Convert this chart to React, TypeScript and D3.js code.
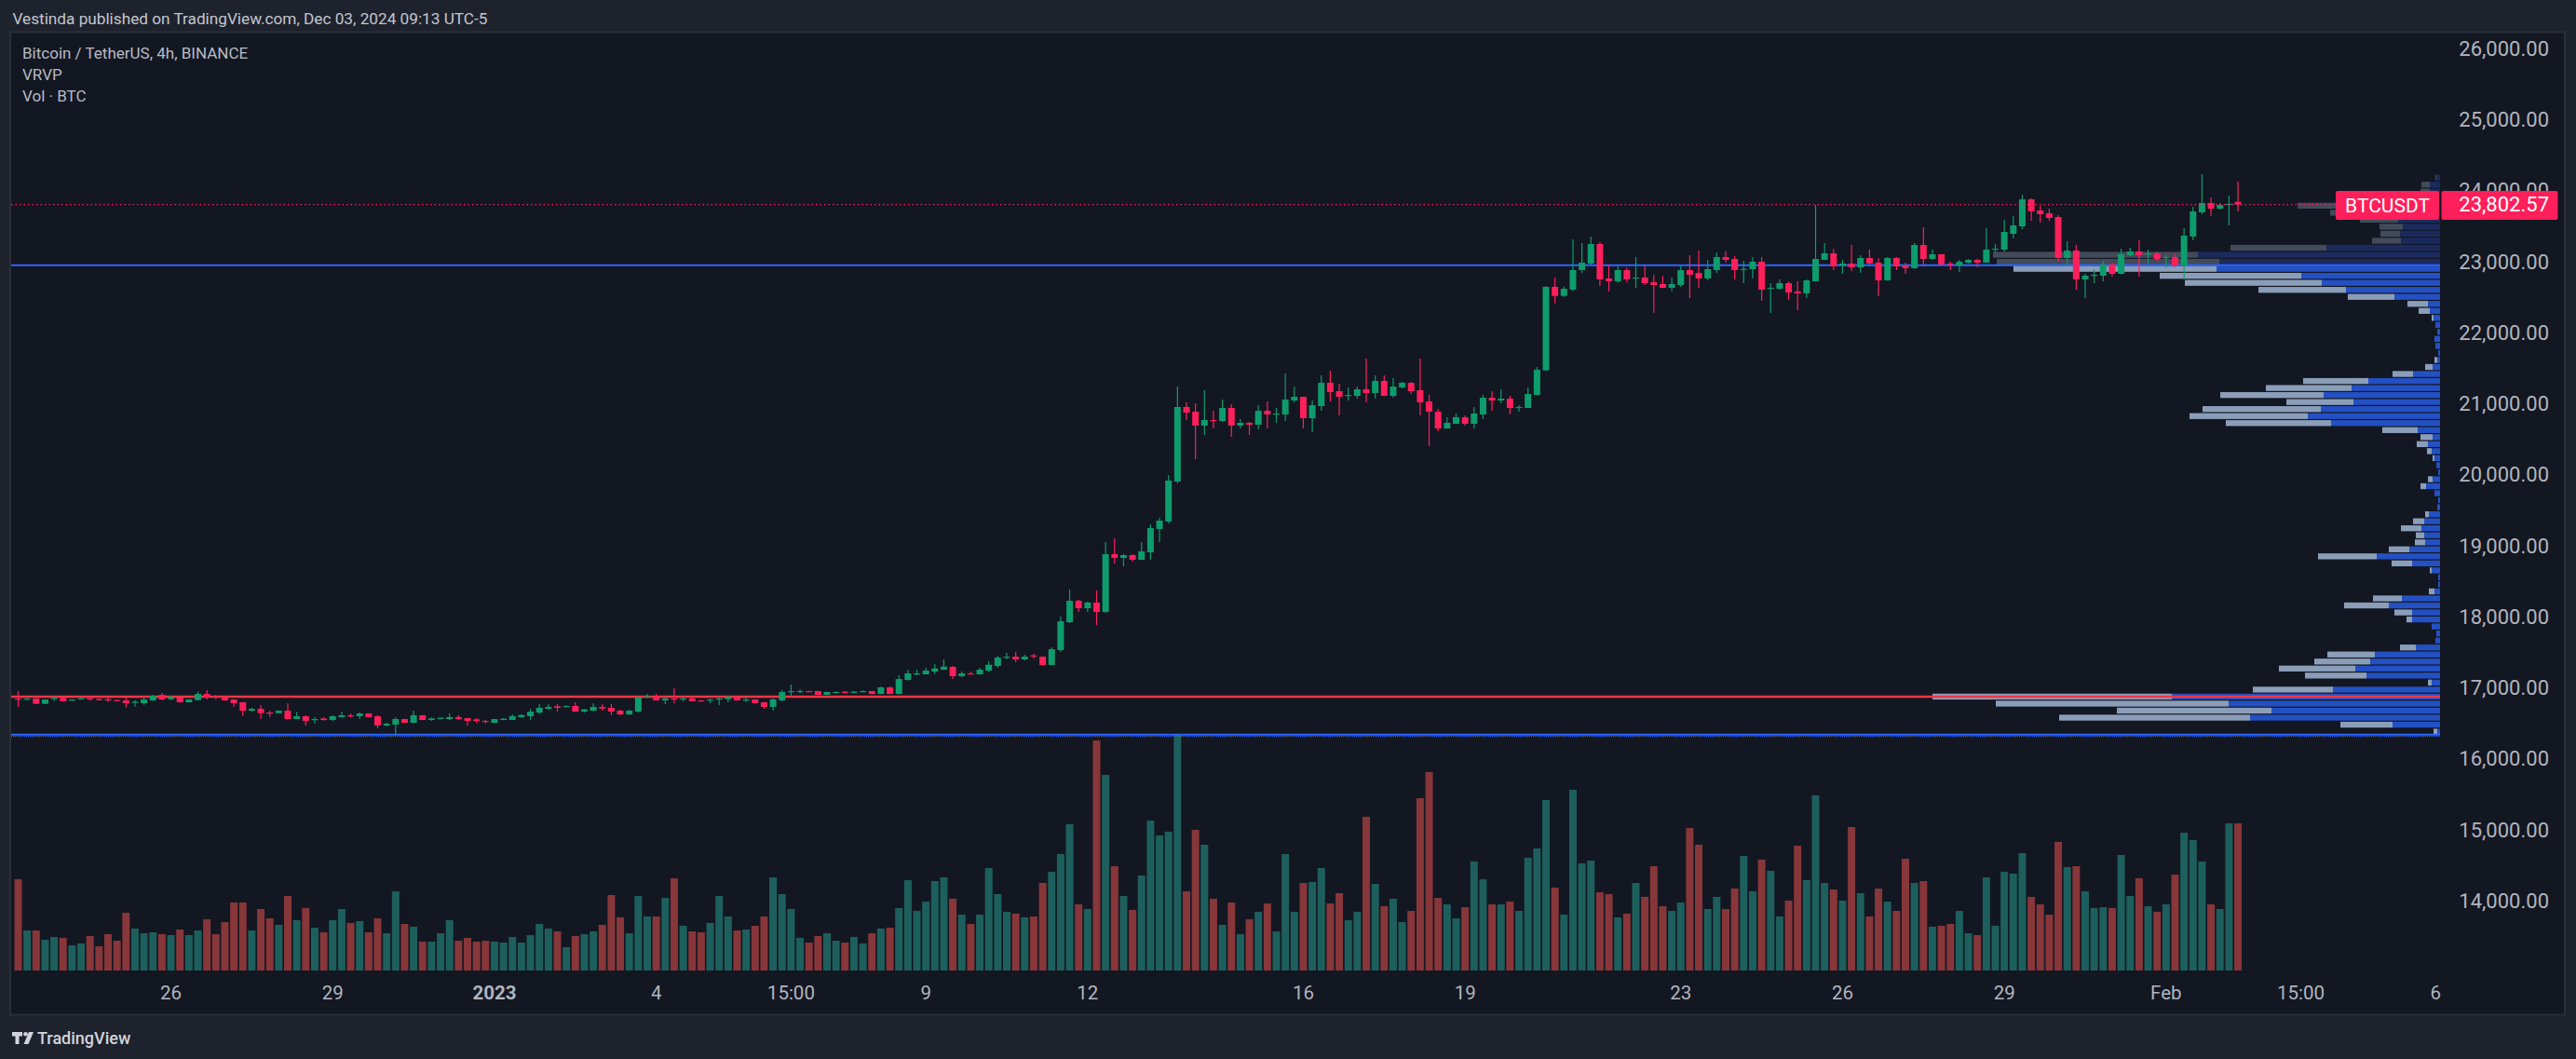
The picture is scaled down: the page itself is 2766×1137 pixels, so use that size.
import React, {useEffect, useRef} from "react";
import * as d3 from "d3";

// BTCUSDT 4h bars, first bar opens Dec 23 2022 07:00 (UTC-5)
const startTime = Date.UTC(2022, 11, 23, 12);
const barMs = 4 * 3600 * 1000;

const open = [
	16846, 16841, 16846, 16772, 16837, 16855, 16824, 16833, 16850, 16841,
	16837, 16824, 16820, 16789, 16780, 16820, 16898, 16837, 16859, 16793,
	16824, 16911, 16876, 16868, 16833, 16793, 16675, 16702, 16649, 16640,
	16675, 16557, 16597, 16549, 16566, 16544, 16584, 16610, 16597, 16636,
	16597, 16466, 16479, 16557, 16505, 16610, 16544, 16557, 16557, 16584,
	16570, 16553, 16531, 16505, 16544, 16544, 16584, 16597, 16649, 16702,
	16736, 16728, 16741, 16662, 16675, 16728, 16715, 16675, 16623, 16662,
	16863, 16872, 16820, 16846, 16837, 16846, 16820, 16824, 16833, 16837,
	16868, 16824, 16833, 16793, 16728, 16820, 16942, 16938, 16951, 16951,
	16898, 16925, 16942, 16925, 16938, 16951, 16911, 17003, 16911, 17108,
	17187, 17187, 17226, 17252, 17292, 17161, 17200, 17187, 17239, 17305,
	17423, 17436, 17397, 17454, 17436, 17318, 17528, 17921, 18223, 18118,
	18197, 18066, 18879, 18826, 18866, 18800, 18905, 19233, 19338, 19902,
	20951, 20885, 20689, 20767, 20754, 20938, 20689, 20728, 20702, 20898,
	20850, 20846, 21043, 21095, 20793, 20964, 21292, 21174, 21113, 21108,
	21200, 21148, 21318, 21108, 21226, 21292, 21187, 21030, 20885, 20649,
	20715, 20807, 20715, 20846, 21082, 21043, 21069, 20942, 20938, 21121,
	21467, 22643, 22516, 22603, 22879, 22971, 23246, 22761, 22721, 22879,
	22765, 22774, 22708, 22682, 22630, 22669, 22879, 22839, 22761, 22879,
	23062, 23036, 22885, 22892, 22997, 22620, 22616, 22695, 22577, 22551,
	22721, 23023, 23115, 22944, 22971, 22918, 23049, 22984, 22734, 23049,
	22940, 22905, 23233, 23036, 23102, 22971, 22944, 22984, 23023, 22984,
	23167, 23167, 23390, 23495, 23875, 23718, 23679, 23626, 23049, 23154,
	22747, 22805, 22800, 22957, 22826, 23089, 23141, 23110, 23115, 23058,
	23062, 22944, 23351, 23692, 23823, 23744, 23800, 23840,
];

const high = [
	16951, 16859, 16850, 16837, 16868, 16859, 16837, 16855, 16868, 16846,
	16859, 16828, 16859, 16824, 16855, 16898, 16925, 16885, 16868, 16837,
	16942, 16964, 16898, 16872, 16833, 16798, 16715, 16754, 16675, 16680,
	16780, 16658, 16610, 16588, 16584, 16610, 16662, 16636, 16649, 16640,
	16610, 16505, 16584, 16562, 16675, 16614, 16579, 16580, 16636, 16610,
	16575, 16570, 16544, 16562, 16570, 16623, 16627, 16702, 16767, 16767,
	16767, 16750, 16793, 16702, 16780, 16767, 16767, 16689, 16689, 16872,
	16911, 16911, 16859, 16990, 16859, 16859, 16824, 16846, 16872, 16885,
	16885, 16863, 16837, 16798, 16846, 16964, 17043, 16977, 16955, 16955,
	16942, 16946, 16946, 16951, 16960, 16955, 17016, 17016, 17174, 17252,
	17248, 17279, 17331, 17397, 17305, 17226, 17226, 17279, 17371, 17449,
	17489, 17502, 17462, 17476, 17440, 17567, 18000, 18380, 18236, 18210,
	18367, 19049, 19102, 18879, 18879, 19049, 19298, 19390, 19994, 21239,
	21017, 21003, 21187, 20898, 21056, 20990, 20780, 20741, 20977, 21030,
	20938, 21423, 21239, 21095, 21043, 21397, 21462, 21279, 21226, 21239,
	21633, 21397, 21397, 21358, 21305, 21305, 21633, 21121, 20925, 20807,
	20859, 20833, 20951, 21121, 21174, 21200, 21108, 20977, 21226, 21515,
	22650, 22774, 22647, 23311, 23259, 23351, 23272, 22953, 22931, 22914,
	23062, 22940, 22809, 22800, 22774, 22931, 23089, 23154, 23023, 23128,
	23145, 23075, 23010, 23062, 23062, 22695, 22747, 22721, 22721, 22747,
	23797, 23259, 23176, 23023, 23233, 23089, 23167, 23049, 23062, 23062,
	22984, 23259, 23482, 23167, 23105, 22997, 23023, 23036, 23036, 23469,
	23246, 23587, 23639, 23941, 23889, 23784, 23744, 23653, 23285, 23233,
	22826, 22892, 23010, 22984, 23180, 23193, 23298, 23167, 23141, 23089,
	23115, 23469, 23770, 24230, 23902, 23823, 23928, 24125,
];

const low = [
	16728, 16824, 16768, 16768, 16811, 16800, 16815, 16828, 16815, 16820,
	16798, 16807, 16719, 16732, 16758, 16811, 16824, 16824, 16789, 16789,
	16820, 16837, 16837, 16815, 16732, 16597, 16658, 16557, 16588, 16636,
	16553, 16553, 16466, 16492, 16536, 16527, 16580, 16584, 16557, 16580,
	16426, 16452, 16343, 16500, 16500, 16540, 16531, 16553, 16544, 16549,
	16466, 16505, 16496, 16500, 16540, 16540, 16575, 16544, 16627, 16689,
	16662, 16724, 16658, 16649, 16670, 16675, 16610, 16610, 16618, 16649,
	16846, 16815, 16767, 16780, 16807, 16805, 16800, 16780, 16754, 16793,
	16815, 16798, 16776, 16702, 16675, 16807, 16885, 16925, 16933, 16894,
	16894, 16920, 16920, 16920, 16933, 16905, 16905, 16905, 16905, 17099,
	17174, 17187, 17191, 17250, 17121, 17147, 17187, 17185, 17217, 17283,
	17397, 17358, 17384, 17410, 17310, 17315, 17502, 17908, 18066, 18066,
	17882, 18052, 18748, 18708, 18774, 18795, 18800, 19049, 19312, 19875,
	20767, 20216, 20557, 20649, 20741, 20531, 20649, 20557, 20636, 20649,
	20728, 20754, 21017, 20649, 20597, 20898, 21030, 20833, 21043, 21069,
	21017, 21069, 21105, 21082, 21213, 21134, 20833, 20400, 20610, 20645,
	20710, 20689, 20649, 20780, 20898, 21003, 20846, 20885, 20935, 21118,
	21460, 22411, 22503, 22581, 22835, 22957, 22656, 22577, 22700, 22704,
	22630, 22669, 22280, 22625, 22581, 22643, 22485, 22630, 22734, 22839,
	22984, 22747, 22695, 22761, 22446, 22276, 22603, 22459, 22315, 22485,
	22715, 23020, 22879, 22826, 22866, 22839, 22957, 22511, 22730, 22879,
	22826, 22900, 22931, 23023, 22955, 22879, 22853, 22971, 22918, 22980,
	23128, 23141, 23325, 23456, 23574, 23547, 23574, 22997, 22944, 22603,
	22485, 22695, 22721, 22787, 22820, 23075, 22787, 22971, 23010, 22905,
	22918, 22747, 23298, 23666, 23639, 23731, 23508, 23705,
];

const close = [
	16837, 16843, 16772, 16833, 16855, 16807, 16833, 16850, 16833, 16824,
	16820, 16811, 16780, 16802, 16833, 16885, 16833, 16868, 16793, 16833,
	16911, 16859, 16859, 16820, 16780, 16675, 16702, 16640, 16640, 16675,
	16557, 16597, 16531, 16557, 16544, 16597, 16610, 16597, 16636, 16584,
	16466, 16492, 16557, 16505, 16610, 16544, 16566, 16575, 16584, 16557,
	16531, 16531, 16518, 16557, 16562, 16597, 16614, 16662, 16715, 16728,
	16715, 16741, 16662, 16693, 16728, 16706, 16662, 16623, 16675, 16859,
	16876, 16820, 16846, 16833, 16846, 16807, 16807, 16833, 16846, 16868,
	16820, 16833, 16780, 16728, 16833, 16938, 16951, 16951, 16938, 16898,
	16938, 16938, 16925, 16942, 16951, 16911, 17003, 16911, 17121, 17200,
	17200, 17239, 17270, 17296, 17161, 17200, 17191, 17252, 17322, 17423,
	17436, 17397, 17436, 17441, 17318, 17541, 17935, 18223, 18118, 18197,
	18066, 18879, 18826, 18866, 18800, 18918, 19246, 19351, 19915, 20951,
	20872, 20689, 20767, 20759, 20938, 20689, 20728, 20702, 20898, 20846,
	20859, 21056, 21095, 20793, 20977, 21292, 21161, 21095, 21121, 21200,
	21148, 21318, 21108, 21239, 21292, 21174, 21017, 20885, 20649, 20728,
	20807, 20715, 20859, 21082, 21043, 21069, 20938, 20951, 21134, 21475,
	22643, 22516, 22616, 22879, 22984, 23246, 22747, 22721, 22879, 22747,
	22774, 22695, 22669, 22630, 22682, 22879, 22813, 22761, 22892, 23062,
	23023, 22879, 22896, 22997, 22603, 22630, 22695, 22564, 22551, 22734,
	23036, 23115, 22931, 22971, 22918, 23049, 22971, 22734, 23049, 22931,
	22905, 23233, 23036, 23102, 22957, 22957, 22997, 23023, 22984, 23167,
	23180, 23416, 23508, 23875, 23705, 23666, 23613, 23049, 23154, 22747,
	22800, 22813, 22957, 22826, 23102, 23141, 23089, 23115, 23036, 23062,
	22944, 23364, 23705, 23823, 23744, 23797, 23812, 23802.57,
];

// volume per bar, thousand BTC
const volume = [
	73.5, 32.3, 32.3, 24.8, 27.0, 26.3, 20.3, 21.8, 27.8, 19.5,
	29.3, 24.0, 46.5, 33.8, 30.0, 30.8, 29.3, 28.5, 33.0, 28.5,
	32.3, 41.3, 29.3, 39.0, 54.8, 54.8, 32.3, 49.5, 42.0, 36.8,
	60.0, 40.5, 50.3, 34.5, 30.8, 40.5, 49.5, 38.3, 39.8, 30.8,
	42.0, 30.0, 63.8, 37.5, 35.3, 23.3, 23.3, 30.0, 40.5, 24.0,
	26.3, 23.3, 24.0, 23.3, 22.5, 27.0, 22.5, 28.5, 37.5, 33.8,
	31.5, 18.8, 27.8, 29.3, 31.5, 36.8, 60.8, 42.8, 30.0, 60.0,
	43.5, 43.5, 58.5, 74.3, 36.0, 31.5, 30.8, 38.3, 60.0, 43.5,
	32.3, 33.0, 36.0, 43.5, 75.0, 61.5, 49.5, 26.3, 22.5, 27.8,
	30.0, 24.0, 22.5, 27.0, 21.8, 30.0, 33.8, 34.5, 50.3, 72.8,
	48.0, 55.5, 72.0, 75.0, 57.8, 45.0, 37.5, 45.0, 82.5, 61.5,
	47.3, 45.8, 42.8, 43.5, 70.5, 79.5, 93.8, 117.8, 53.3, 49.5,
	185.3, 157.5, 84.0, 60.0, 48.8, 76.5, 120.8, 108.8, 111.8, 190.5,
	63.8, 113.3, 101.3, 57.8, 36.8, 54.8, 29.3, 41.3, 47.3, 54.0,
	31.5, 93.8, 47.3, 70.5, 71.3, 82.5, 54.0, 62.3, 40.5, 47.3,
	123.8, 69.8, 51.8, 57.8, 39.0, 48.0, 138.8, 159.8, 58.5, 53.3,
	42.0, 51.0, 87.8, 73.5, 53.3, 53.3, 55.5, 48.0, 90.8, 98.3,
	137.3, 66.8, 45.0, 145.5, 86.3, 88.5, 63.0, 61.5, 42.8, 45.8,
	70.5, 59.3, 84.0, 51.8, 48.0, 54.8, 114.8, 101.3, 49.5, 59.3,
	49.5, 66.0, 92.3, 63.8, 89.3, 80.3, 43.5, 56.3, 100.5, 72.8,
	141.0, 70.5, 65.3, 56.3, 115.5, 62.3, 43.5, 66.0, 55.5, 48.0,
	90.0, 70.5, 72.0, 35.3, 36.0, 37.5, 48.0, 30.0, 28.5, 75.0,
	36.0, 79.5, 78.0, 94.5, 59.3, 53.3, 45.0, 103.5, 83.3, 84.0,
	63.8, 50.3, 51.0, 50.3, 93.0, 60.0, 74.3, 51.8, 47.3, 53.3,
	77.3, 111.0, 105.0, 87.8, 53.3, 49.5, 118.5, 118.5,
];

// Visible range volume profile: 80 rows from the bottom up
const profileLow = 16330;
const profileRowSize = 98.75;
const profileUp = [
	3, 51, 204, 181, 227, 288, 115, 9, 79, 91,
	75, 70, 26, 5, 4, 9, 30, 30, 55, 41,
	6, 2, 2, 9, 30, 68, 33, 16, 17, 20,
	17, 12, 3, 2, 6, 15, 8, 2, 4, 6,
	9, 13, 8, 24, 117, 142, 128, 93, 125, 95,
	77, 29, 8, 3, 2, 5, 6, 3, 5, 7,
	11, 13, 49, 101, 127, 149, 240, 237, 260, 122,
	42, 43, 40, 45, 55, 70, 12, 11, 11, 4,
];
const profileDown = [
	4, 56, 205, 166, 250, 257, 86, 4, 66, 82,
	60, 51, 17, 0, 0, 0, 6, 19, 48, 31,
	6, 0, 0, 2, 22, 63, 22, 11, 9, 22,
	12, 4, 0, 0, 0, 6, 5, 0, 0, 2,
	5, 12, 13, 38, 113, 127, 127, 72, 111, 92,
	70, 22, 8, 3, 0, 0, 0, 0, 0, 2,
	12, 22, 50, 94, 147, 152, 218, 239, 220, 103,
	31, 21, 25, 41, 63, 83, 13, 10, 9, 1,
];
const valueAreaRows = 67; // rows 0..66 are inside the value area
const pocPrice = 16873;
const vahPrice = 22946;
const valPrice = 16330;
const lastPrice = 23802.57;

const priceTicks = [14000, 15000, 16000, 17000, 18000, 19000, 20000, 21000, 22000, 23000, 24000, 25000, 26000];

const timeTicks = [
	{time: "2022-12-26T03:00:00-05:00", label: "26"},
	{time: "2022-12-29T03:00:00-05:00", label: "29"},
	{time: "2023-01-01T03:00:00-05:00", label: "2023", bold: true},
	{time: "2023-01-04T03:00:00-05:00", label: "4"},
	{time: "2023-01-06T15:00:00-05:00", label: "15:00"},
	{time: "2023-01-09T03:00:00-05:00", label: "9"},
	{time: "2023-01-12T03:00:00-05:00", label: "12"},
	{time: "2023-01-16T03:00:00-05:00", label: "16"},
	{time: "2023-01-19T03:00:00-05:00", label: "19"},
	{time: "2023-01-23T03:00:00-05:00", label: "23"},
	{time: "2023-01-26T03:00:00-05:00", label: "26"},
	{time: "2023-01-29T03:00:00-05:00", label: "29"},
	{time: "2023-02-01T03:00:00-05:00", label: "Feb"},
	{time: "2023-02-03T15:00:00-05:00", label: "15:00"},
	{time: "2023-02-06T03:00:00-05:00", label: "6"},
];

const W = 2766;
const H = 1137;
const FONT = "Roboto, 'Noto Sans', sans-serif";
const UP = "#0e9c6c";
const DOWN = "#ff1f5a";

const App: React.FC = () => {
	const svgRef = useRef<SVGSVGElement>(null);

	useEffect(() => {
		document.body.style.margin = "0";
		document.body.style.background = "#1e222d";

		const svg = d3.select(svgRef.current);
		svg.selectAll("*").remove();

		const pane = {left: 12, top: 36, right: 2620, bottom: 1042};

		const x = d3
			.scaleUtc()
			.domain([startTime, startTime + 100 * barMs])
			.range([19.5, 19.5 + 965]);
		const y = d3.scaleLinear().domain([14000, 26000]).range([967, 52]);
		const yVol = d3
			.scaleLinear()
			.domain([0, d3.max(volume) || 1])
			.range([pane.bottom, pane.bottom - 254]);
		const profileMax = d3.max(profileUp.map((u, i) => u + profileDown[i])) || 1;
		const wProfile = d3.scaleLinear().domain([0, profileMax]).range([0, 545]);

		const bars = open.map((o, i) => ({
			t: startTime + i * barMs,
			o,
			h: Math.max(high[i], o, close[i]),
			l: Math.min(low[i], o, close[i]),
			c: close[i],
			v: volume[i],
		}));

		// backgrounds
		svg.append("rect").attr("width", W).attr("height", H).attr("fill", "#1e222d");
		svg.append("rect")
			.attr("x", 11)
			.attr("y", 34.5)
			.attr("width", 2743)
			.attr("height", 1055)
			.attr("fill", "#131722")
			.attr("stroke", "#2a2e39")
			.attr("stroke-width", 2);

		const defs = svg.append("defs");
		defs.append("clipPath")
			.attr("id", "pane-clip")
			.append("rect")
			.attr("x", pane.left)
			.attr("y", pane.top)
			.attr("width", pane.right - pane.left)
			.attr("height", pane.bottom - pane.top);

		const g = svg.append("g").attr("clip-path", "url(#pane-clip)");

		// volume
		g.append("g")
			.selectAll("rect")
			.data(bars)
			.enter()
			.append("rect")
			.attr("x", (d) => x(d.t) - 4)
			.attr("width", 8)
			.attr("y", (d) => yVol(d.v))
			.attr("height", (d) => pane.bottom - yVol(d.v))
			.attr("fill", (d) => (d.c >= d.o ? "#1d5f5c" : "#873639"));

		// volume profile
		const rows = profileUp.map((u, k) => ({
			k,
			up: u,
			down: profileDown[k],
			y0: y(profileLow + (k + 1) * profileRowSize),
			y1: y(profileLow + k * profileRowSize),
		}));
		const prof = g.append("g");
		prof.selectAll("rect.up")
			.data(rows)
			.enter()
			.append("rect")
			.attr("class", "up")
			.attr("x", (d) => pane.right - wProfile(d.up))
			.attr("width", (d) => wProfile(d.up))
			.attr("y", (d) => d.y0 + 0.6)
			.attr("height", (d) => d.y1 - d.y0 - 1.2)
			.attr("fill", (d) => (d.k < valueAreaRows ? "#2350c2" : "#1b2a5c"));
		prof.selectAll("rect.down")
			.data(rows)
			.enter()
			.append("rect")
			.attr("class", "down")
			.attr("x", (d) => pane.right - wProfile(d.up + d.down))
			.attr("width", (d) => wProfile(d.down))
			.attr("y", (d) => d.y0 + 0.6)
			.attr("height", (d) => d.y1 - d.y0 - 1.2)
			.attr("fill", (d) => (d.k < valueAreaRows ? "#8b9eb9" : "#434a5a"));

		// value area high / low and point of control
		g.append("line")
			.attr("x1", pane.left)
			.attr("x2", pane.right)
			.attr("y1", y(vahPrice))
			.attr("y2", y(vahPrice))
			.attr("stroke", "#2d66ff")
			.attr("stroke-width", 2);
		g.append("line")
			.attr("x1", pane.left)
			.attr("x2", pane.right)
			.attr("y1", y(valPrice) - 0.5)
			.attr("y2", y(valPrice) - 0.5)
			.attr("stroke", "#2d66ff")
			.attr("stroke-width", 2);
		g.append("line")
			.attr("x1", pane.left)
			.attr("x2", pane.right)
			.attr("y1", y(valPrice) + 1.2)
			.attr("y2", y(valPrice) + 1.2)
			.attr("stroke", "#2d66ff")
			.attr("stroke-width", 1.2)
			.attr("stroke-dasharray", "1 1");
		g.append("line")
			.attr("x1", pane.left)
			.attr("x2", pane.right)
			.attr("y1", y(pocPrice))
			.attr("y2", y(pocPrice))
			.attr("stroke", "#f23645")
			.attr("stroke-width", 2.5);

		// candles
		const candles = g.append("g");
		candles.selectAll("line")
			.data(bars)
			.enter()
			.append("line")
			.attr("x1", (d) => x(d.t))
			.attr("x2", (d) => x(d.t))
			.attr("y1", (d) => y(d.h))
			.attr("y2", (d) => y(d.l))
			.attr("stroke", (d) => (d.c >= d.o ? UP : DOWN))
			.attr("stroke-width", 1.2);
		candles.selectAll("rect")
			.data(bars)
			.enter()
			.append("rect")
			.attr("x", (d) => x(d.t) - 3.5)
			.attr("width", 7)
			.attr("y", (d) => y(Math.max(d.o, d.c)))
			.attr("height", (d) => Math.max(1.2, Math.abs(y(d.o) - y(d.c))))
			.attr("fill", (d) => (d.c >= d.o ? UP : DOWN));

		// last price line
		g.append("line")
			.attr("x1", pane.left)
			.attr("x2", pane.right)
			.attr("y1", y(lastPrice))
			.attr("y2", y(lastPrice))
			.attr("stroke", DOWN)
			.attr("stroke-width", 1.2)
			.attr("stroke-dasharray", "1.5 3");

		// price axis (the 24,000 label sits partly under the last price badge)
		const ly = y(lastPrice);
		defs.append("clipPath")
			.attr("id", "axis-clip")
			.append("rect")
			.attr("x", 2600)
			.attr("y", 0)
			.attr("width", 166)
			.attr("height", ly - 14.5);
		svg.append("g")
			.selectAll("text")
			.data(priceTicks)
			.enter()
			.append("text")
			.attr("x", 2737)
			.attr("y", (d) => y(d))
			.attr("dy", "0.36em")
			.attr("text-anchor", "end")
			.attr("clip-path", (d) => (Math.abs(y(d) - ly) < 30 ? "url(#axis-clip)" : null))
			.style("font-family", FONT)
			.style("font-size", "22px")
			.style("fill", "#b2b5be")
			.text((d) => d3.format(",.2f")(d));

		// last price badges
		svg.append("rect")
			.attr("x", 2508)
			.attr("y", ly - 14.5)
			.attr("width", 111)
			.attr("height", 31)
			.attr("rx", 2)
			.attr("fill", DOWN);
		svg.append("rect")
			.attr("x", 2621.5)
			.attr("y", ly - 14.5)
			.attr("width", 125)
			.attr("height", 31)
			.attr("rx", 2)
			.attr("fill", DOWN);
		svg.append("text")
			.attr("x", 2563.5)
			.attr("y", ly + 1)
			.attr("dy", "0.36em")
			.attr("text-anchor", "middle")
			.style("font-family", FONT)
			.style("font-size", "21px")
			.style("fill", "#ffffff")
			.text("BTCUSDT");
		svg.append("text")
			.attr("x", 2737)
			.attr("y", ly)
			.attr("dy", "0.36em")
			.attr("text-anchor", "end")
			.style("font-family", FONT)
			.style("font-size", "22px")
			.style("fill", "#ffffff")
			.text(d3.format(",.2f")(lastPrice));

		// time axis
		svg.append("g")
			.selectAll("text")
			.data(timeTicks)
			.enter()
			.append("text")
			.attr("x", (d) => x(new Date(d.time).getTime()))
			.attr("y", 1073)
			.attr("text-anchor", "middle")
			.style("font-family", FONT)
			.style("font-size", "20.5px")
			.style("font-weight", (d) => (d.bold ? "700" : "400"))
			.style("fill", "#b2b5be")
			.text((d) => d.label);

		// header and legend
		svg.append("text")
			.attr("x", 13.5)
			.attr("y", 26)
			.style("font-family", FONT)
			.style("font-size", "17.2px")
			.style("fill", "#c3c6ce")
			.text("Vestinda published on TradingView.com, Dec 03, 2024 09:13 UTC-5");

		const legend = ["Bitcoin / TetherUS, 4h, BINANCE", "VRVP", "Vol · BTC"];
		svg.append("g")
			.selectAll("text")
			.data(legend)
			.enter()
			.append("text")
			.attr("x", 24)
			.attr("y", (d, i) => 62.5 + i * 23)
			.style("font-family", FONT)
			.style("font-size", "17px")
			.style("fill", "#b8bbc4")
			.text((d) => d);

		// TradingView logo
		const logo = svg.append("g").attr("fill", "#d1d4dc");
		logo.append("path").attr("d", "M13 1108h11v4.5h-3.5v8.5h-4v-8.5H13z");
		logo.append("circle").attr("cx", 27.5).attr("cy", 1110.3).attr("r", 2.3);
		logo.append("path").attr("d", "M31 1108h5l-5.5 13h-5z");
		svg.append("text")
			.attr("x", 40)
			.attr("y", 1121)
			.style("font-family", FONT)
			.style("font-size", "18px")
			.style("font-weight", "500")
			.style("fill", "#d1d4dc")
			.text("TradingView");
	}, []);

	return <svg ref={svgRef} width={W} height={H} style={{display: "block"}} />;
};

export default App;
